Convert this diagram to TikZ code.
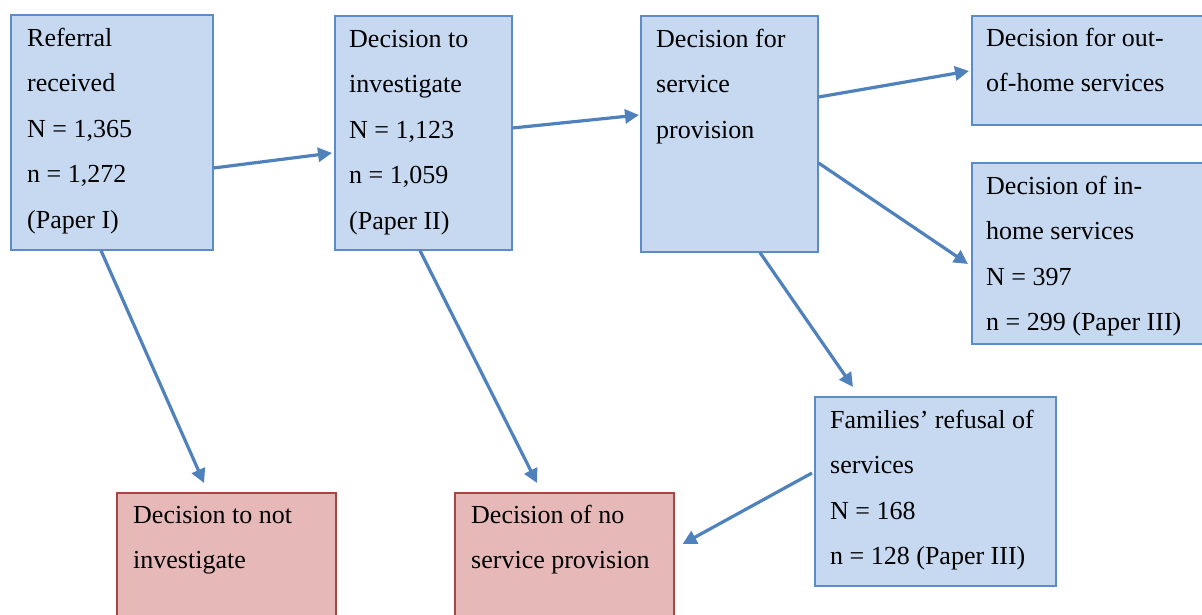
\documentclass[tikz,border=0pt]{standalone}
\usepackage{fontspec}
\setmainfont{Liberation Serif}
\usetikzlibrary{arrows.meta,calc}
\definecolor{fillblue}{HTML}{C6D9F1}
\definecolor{lineblue}{HTML}{5B8BC9}
\definecolor{arrblue}{HTML}{4F81BD}
\definecolor{fillred}{HTML}{E6B9B8}
\definecolor{linered}{HTML}{A64744}
\tikzset{
  bluebox/.style={draw=lineblue, fill=fillblue, line width=1.6pt, anchor=north west, inner sep=0pt, rectangle},
  redbox/.style={draw=linered, fill=fillred, line width=1.6pt, anchor=north west, inner sep=0pt, rectangle},
  txt/.style={anchor=north west, inner sep=0pt, align=left, font=\fontsize{26}{45.5}\selectfont},
  arr/.style={draw=arrblue, line width=3.2pt, -{Triangle[length=14pt,width=14pt]}}
}
\begin{document}
\begin{tikzpicture}[x=1pt,y=-1pt]
\useasboundingbox (0,0) rectangle (1202,615);
\clip (0,0) rectangle (1202,615);
% boxes
\node[bluebox, minimum width=202pt, minimum height=235pt] (ref) at (10,14) {};
\node[bluebox, minimum width=177pt, minimum height=234pt] (inv) at (334,15) {};
\node[bluebox, minimum width=177pt, minimum height=236pt] (svc) at (640,15) {};
\node[bluebox, minimum width=240pt, minimum height=109pt] (out) at (971,15) {};
\node[bluebox, minimum width=240pt, minimum height=181pt] (inh) at (971,162) {};
\node[bluebox, minimum width=241pt, minimum height=189pt] (refu) at (814,396) {};
\node[redbox, minimum width=219pt, minimum height=140pt] (nin) at (116,492) {};
\node[redbox, minimum width=219pt, minimum height=140pt] (nsp) at (454,492) {};
% texts
\node[txt] (tref) at ($(ref.north west)+(17,0)$) {\strut Referral\\received\\N = 1,365\\n = 1,272\\(Paper I)};
\node[txt] (tinv) at ($(inv.north west)+(15,0)$) {\strut Decision to\\investigate\\N = 1,123\\n = 1,059\\(Paper II)};
\node[txt] (tsvc) at ($(svc.north west)+(16,0)$) {\strut Decision for\\service\\provision};
\node[txt] (tout) at ($(out.north west)+(15,-1)$) {\strut Decision for out-\\of-home services};
\node[txt] (tinh) at ($(inh.north west)+(15,0)$) {\strut Decision of in-\\home services\\N = 397\\n = 299 (Paper III)};
\node[txt] (trefu) at ($(refu.north west)+(16,0)$) {\strut Families’ refusal of\\services\\N = 168\\n = 128 (Paper III)};
\node[txt] (tnin) at ($(nin.north west)+(17,-1)$) {\strut Decision to not\\investigate};
\node[txt] (tnsp) at ($(nsp.north west)+(17,-1)$) {\strut Decision of no\\service provision};
% arrows
\draw[arr] ($(ref.north east)+(0,154)$) -- ($(inv.north west)+(-2,138)$);
\draw[arr] ($(inv.north east)+(0,113)$) -- ($(svc.north west)+(-1,100)$);
\draw[arr] ($(svc.north east)+(0,82)$) -- ($(out.north west)+(-2,56)$);
\draw[arr] ($(svc.north east)+(0,148)$) -- ($(inh.north west)+(-3,102)$);
\draw[arr] ($(ref.south west)+(91,0)$) -- ($(nin.north west)+(88,-9)$);
\draw[arr] ($(inv.south west)+(86,0)$) -- ($(nsp.north west)+(83,-9)$);
\draw[arr] ($(svc.south west)+(120,0)$) -- ($(refu.north west)+(39,-9)$);
\draw[arr] ($(refu.north west)+(-2,77)$) -- ($(nsp.north east)+(8,52)$);
\end{tikzpicture}
\end{document}
